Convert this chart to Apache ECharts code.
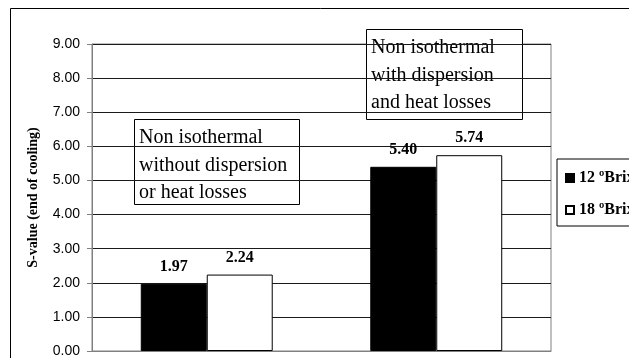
<!DOCTYPE html>
<html>
<head>
<meta charset="utf-8">
<title>S-value at end of cooling</title>
<script src="https://cdn.jsdelivr.net/npm/echarts@6/dist/echarts.min.js"></script>
<style>
  html, body { margin: 0; padding: 0; background: #fff; }
  #chart { width: 629px; height: 358px; }
</style>
</head>
<body>
<div id="chart"></div>
<script>
// Simulation cases (one bar group each)
const categories = ['Non isothermal without dispersion or heat losses', 'Non isothermal with dispersion and heat losses'];
// Final S-value per syrup concentration
const brix12 = [1.97, 5.40];
const brix18 = [2.24, 5.74];
const seriesNames = ['12 ºBrix', '18 ºBrix'];
// Value axis
const yMin = 0, yMax = 9, yStep = 1;
// Annotation box texts
const note1 = ['Non isothermal', 'without dispersion', 'or heat losses'];
const note2 = ['Non isothermal', 'with dispersion', 'and heat losses'];

const serif = '"Liberation Serif", "Times New Roman", serif';
const sans = '"Liberation Sans", Arial, sans-serif';

const chart = echarts.init(document.getElementById('chart'), null, { renderer: 'canvas' });

const barLabel = {
  show: true,
  position: 'top',
  distance: 9,
  color: '#000',
  fontFamily: serif,
  fontWeight: 'bold',
  fontSize: 16,
  formatter: p => p.value.toFixed(2)
};

function noteBox(x, y, w, h, lines) {
  return {
    type: 'group',
    z: 100,
    children: [
      { type: 'rect', shape: { x: x + 0.5, y: y + 0.5, width: w, height: h },
        style: { fill: '#fff', stroke: '#000', lineWidth: 1 } },
      { type: 'text', x: x + 5, y: y + 5,
        style: { text: lines.join('\n'), fill: '#000', font: '20px ' + serif,
                 lineHeight: 27.5, verticalAlign: 'top', align: 'left' } }
    ]
  };
}

chart.setOption({
  animation: false,
  backgroundColor: '#fff',
  grid: {
    left: 92, top: 44, right: 78, bottom: 6,
    show: true, borderColor: '#808080', borderWidth: 1, backgroundColor: '#fff'
  },
  legend: {
    orient: 'vertical',
    left: 557, top: 159,
    padding: [11, 8, 8, 8],
    itemGap: 16,
    itemWidth: 8, itemHeight: 8,
    icon: 'rect',
    borderColor: '#000', borderWidth: 1, borderRadius: 0,
    backgroundColor: '#fff',
    textStyle: { fontFamily: serif, fontWeight: 'bold', fontSize: 16, color: '#000' },
    data: seriesNames
  },
  xAxis: {
    type: 'category',
    data: categories,
    axisLine: { show: true, lineStyle: { color: '#808080', width: 1 } },
    axisTick: { show: false },
    axisLabel: { show: false }
  },
  yAxis: {
    type: 'value',
    min: yMin, max: yMax, interval: yStep,
    name: 'S-value (end of cooling)',
    nameLocation: 'middle',
    nameGap: 52,
    nameTextStyle: { fontFamily: serif, fontWeight: 'bold', fontSize: 14, color: '#000' },
    axisLine: { show: true, lineStyle: { color: '#808080', width: 1 } },
    axisTick: { show: true, inside: false, length: 5, lineStyle: { color: '#808080' } },
    axisLabel: { margin: 12, fontFamily: sans, fontSize: 14, color: '#000',
                 formatter: v => v.toFixed(2) },
    splitLine: { show: true, lineStyle: { color: '#1a1a1a', width: 1 } }
  },
  series: [
    {
      name: seriesNames[0], type: 'bar', data: brix12,
      barGap: '0%', barCategoryGap: '42.5%',
      itemStyle: { color: '#000', borderColor: '#000', borderWidth: 1 },
      label: barLabel, z: 3
    },
    {
      name: seriesNames[1], type: 'bar', data: brix18,
      barGap: '0%', barCategoryGap: '42.5%',
      itemStyle: { color: '#fff', borderColor: '#000', borderWidth: 1 },
      label: barLabel, z: 3
    }
  ],
  graphic: [
    // outer chart frame
    { type: 'rect', z: 0, silent: true,
      shape: { x: 10.5, y: 8.5, width: 700, height: 400 },
      style: { fill: 'none', stroke: '#000', lineWidth: 1 } },
    noteBox(134, 119, 165, 85, note1),
    noteBox(366, 29, 156, 90, note2)
  ]
});
</script>
</body>
</html>
